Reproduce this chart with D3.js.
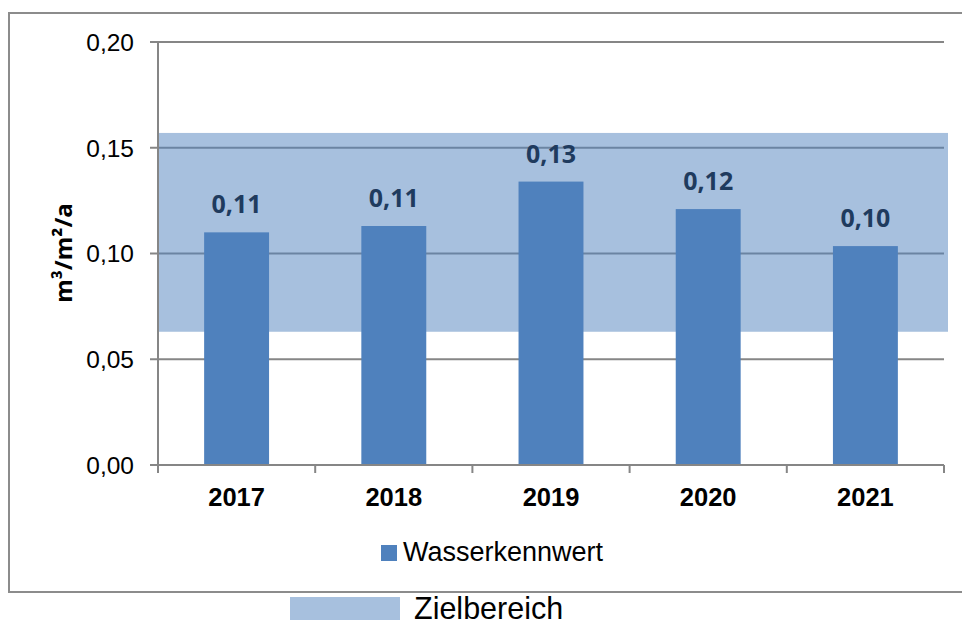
<!DOCTYPE html>
<meta charset="utf-8">
<script src="https://d3js.org/d3.v7.min.js"></script>
<style>
body { margin: 0; background: #fff; }
</style>
<div id="my_dataviz"></div>
<script>
// data
var years = ["2017", "2018", "2019", "2020", "2021"];
var values = [0.110, 0.113, 0.134, 0.121, 0.1035];
var yTicks = [0, 0.05, 0.10, 0.15, 0.20];
var targetRange = [0.063, 0.157];
var seriesName = "Wasserkennwert";
var bandName = "Zielbereich";

var W = 962, H = 626;
var margin = {top: 42, right: 18, bottom: 161, left: 158};
var width = W - margin.left - margin.right,
    height = H - margin.top - margin.bottom;

var svg = d3.select("#my_dataviz").append("svg")
  .attr("width", W).attr("height", H);

// outer frame (right edge runs off the picture)
svg.append("rect")
  .attr("x", 9).attr("y", 13)
  .attr("width", 1000).attr("height", 579)
  .style("fill", "none").style("stroke", "#8c8c8c").style("stroke-width", 2);

var g = svg.append("g")
  .attr("transform", "translate(" + margin.left + "," + margin.top + ")");

var x = d3.scaleBand().domain(years).range([0, width]).padding(0);
var y = d3.scaleLinear().domain([0, 0.2]).range([height, 0]);

var fmt = function(v) { return d3.format(".2f")(v).replace(".", ","); };

// gridlines + y ticks
g.selectAll(".grid")
  .data(yTicks.slice(1))
  .enter().append("line")
    .attr("x1", -8).attr("x2", width)
    .attr("y1", function(d) { return y(d); })
    .attr("y2", function(d) { return y(d); })
    .style("stroke", "#868686").style("stroke-width", 2);

g.selectAll(".ylab")
  .data(yTicks)
  .enter().append("text")
    .attr("x", -24)
    .attr("y", function(d) { return y(d); })
    .attr("dy", "0.36em")
    .attr("text-anchor", "end")
    .style("font-family", "'Liberation Sans', Arial, sans-serif")
    .style("font-size", "24.5px")
    .style("fill", "#000")
    .text(fmt);

// target band, half transparent over the grid
g.append("rect")
  .attr("x", -1)
  .attr("y", y(targetRange[1]))
  .attr("width", width + 5)
  .attr("height", y(targetRange[0]) - y(targetRange[1]))
  .style("fill", "#4f81bd").style("opacity", 0.5);

// bars
var barW = x.bandwidth() * 0.413;
g.selectAll(".bar")
  .data(values)
  .enter().append("rect")
    .attr("x", function(d, i) { return x(years[i]) + (x.bandwidth() - barW) / 2; })
    .attr("y", function(d) { return y(d); })
    .attr("width", barW)
    .attr("height", function(d) { return height - y(d); })
    .style("fill", "#4f81bd");

// value labels
g.selectAll(".val")
  .data(values)
  .enter().append("text")
    .attr("x", function(d, i) { return x(years[i]) + x.bandwidth() / 2; })
    .attr("y", function(d) { return y(d) - 19; })
    .attr("text-anchor", "middle")
    .style("font-family", "'Open Sans', sans-serif")
    .style("font-weight", "bold")
    .style("font-size", "25px")
    .style("fill", "#1f3b5e")
    .text(fmt);

// y axis line
g.append("line")
  .attr("x1", 0).attr("x2", 0).attr("y1", 0).attr("y2", height)
  .style("stroke", "#868686").style("stroke-width", 2);

// x axis
g.append("line")
  .attr("x1", -8).attr("x2", width).attr("y1", height).attr("y2", height)
  .style("stroke", "#868686").style("stroke-width", 2);

var bounds = years.map(function(d) { return x(d); }).concat([width]);
g.selectAll(".xtick")
  .data(bounds)
  .enter().append("line")
    .attr("x1", function(d) { return d; }).attr("x2", function(d) { return d; })
    .attr("y1", height).attr("y2", height + 8)
    .style("stroke", "#868686").style("stroke-width", 2);

g.selectAll(".xlab")
  .data(years)
  .enter().append("text")
    .attr("x", function(d) { return x(d) + x.bandwidth() / 2; })
    .attr("y", height + 41)
    .attr("text-anchor", "middle")
    .style("font-family", "'Liberation Sans', Arial, sans-serif")
    .style("font-weight", "bold")
    .style("font-size", "25.5px")
    .style("fill", "#000")
    .text(function(d) { return d; });

// y axis title
svg.append("text")
  .attr("transform", "translate(72,253) rotate(-90)")
  .attr("text-anchor", "middle")
  .style("font-family", "'Open Sans', sans-serif")
  .style("font-weight", "bold")
  .style("font-size", "24px")
  .style("fill", "#000")
  .text("m³/m²/a");

// legend: series
svg.append("rect")
  .attr("x", 381).attr("y", 545).attr("width", 16).attr("height", 16)
  .style("fill", "#4f81bd");
svg.append("text")
  .attr("x", 403).attr("y", 561)
  .style("font-family", "'Liberation Sans', Arial, sans-serif")
  .style("font-size", "27px")
  .style("fill", "#000")
  .text(seriesName);

// legend: target band (below the frame)
svg.append("rect")
  .attr("x", 290).attr("y", 597).attr("width", 110).attr("height", 23)
  .style("fill", "#4f81bd").style("opacity", 0.5);
svg.append("text")
  .attr("x", 414).attr("y", 619)
  .style("font-family", "'Liberation Sans', Arial, sans-serif")
  .style("font-size", "30.5px")
  .style("fill", "#000")
  .text(bandName);
</script>
